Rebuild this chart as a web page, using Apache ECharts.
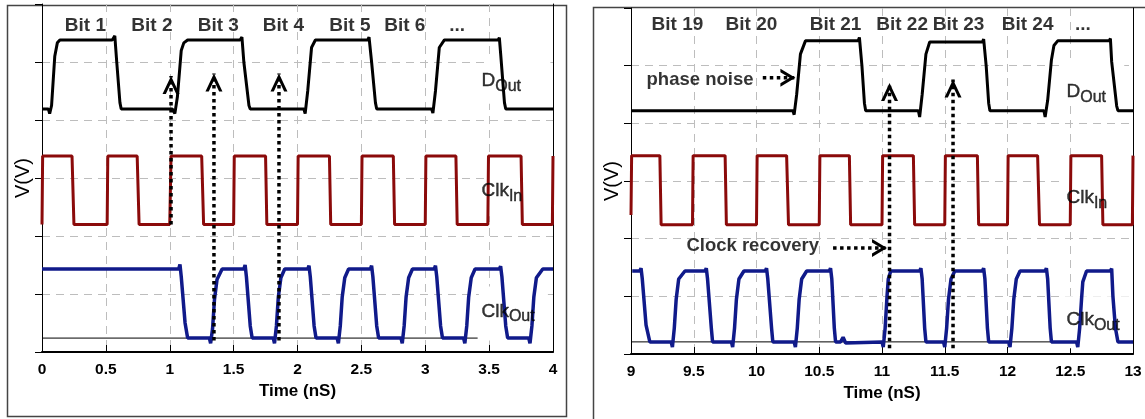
<!DOCTYPE html>
<html>
<head>
<meta charset="utf-8">
<title>CDR waveforms</title>
<script src="https://cdn.jsdelivr.net/npm/echarts@6/dist/echarts.min.js"></script>
<style>
  html,body{margin:0;padding:0;background:#fff;}
  #main{width:1145px;height:419px;}
</style>
</head>
<body>
<div id="main"></div>
<script>
// ---------- left panel: 0 - 4 nS ----------
let timeRangeA=[0,4];
let bitNamesA=['Bit 1','Bit 2','Bit 3','Bit 4','Bit 5','Bit 6','...'];
let bitTimesA=[0.34,0.86,1.38,1.89,2.41,2.84,3.25];
// [time nS, level] (each trace sits in its own 2-unit band)
let dOutA=[[0,4.19],[0.05,4.19],[0.06,4.11],[0.075,4.25],[0.1,5.1],[0.12,5.33],[0.14,5.38],[0.55,5.38],[0.57,5.45],
  [0.585,5.0],[0.61,4.3],[0.62,4.19],[1.02,4.19],[1.04,4.11],[1.06,4.4],[1.09,5.2],[1.11,5.33],[1.14,5.38],[1.55,5.38],
  [1.565,5.43],[1.58,5.0],[1.62,4.25],[1.63,4.19],[2.05,4.19],[2.06,4.11],[2.08,4.5],[2.11,5.25],[2.14,5.38],[2.55,5.38],
  [2.56,5.43],[2.58,5.0],[2.61,4.3],[2.62,4.19],[3.05,4.19],[3.06,4.12],[3.08,4.5],[3.11,5.25],[3.15,5.38],[3.57,5.38],
  [3.58,5.42],[3.59,5.15],[3.62,4.3],[3.63,4.19],[4,4.19]];
let clkInA=[[0,2.2],[0.005,3.38],[0.235,3.38],[0.25,2.2],[0.51,2.2],[0.515,3.38],[0.745,3.38],[0.76,2.2],[1.0,2.2],
  [1.01,3.38],[1.25,3.38],[1.265,2.2],[1.5,2.2],[1.505,3.38],[1.75,3.38],[1.76,2.2],[2.0,2.2],[2.005,3.38],[2.25,3.38],
  [2.26,2.2],[2.5,2.2],[2.505,3.38],[2.75,3.38],[2.76,2.2],[3.0,2.2],[3.005,3.38],[3.24,3.38],[3.25,2.2],[3.49,2.2],
  [3.495,3.38],[3.75,3.38],[3.76,2.2],[3.995,2.2],[4,3.38]];
let clkOutA=[[0,1.43],[1.07,1.43],[1.08,1.51],[1.09,1.3],[1.12,0.5],[1.14,0.24],[1.31,0.24],[1.32,0.15],[1.335,0.4],
  [1.35,0.9],[1.37,1.25],[1.41,1.43],[1.58,1.43],[1.59,1.5],[1.6,1.3],[1.63,0.45],[1.645,0.24],[1.81,0.24],[1.82,0.15],
  [1.835,0.45],[1.85,0.95],[1.87,1.28],[1.9,1.43],[2.08,1.43],[2.09,1.49],[2.1,1.3],[2.13,0.45],[2.145,0.24],[2.31,0.24],
  [2.32,0.15],[2.335,0.45],[2.35,0.95],[2.37,1.28],[2.4,1.43],[2.57,1.43],[2.58,1.49],[2.59,1.3],[2.62,0.45],[2.635,0.24],
  [2.81,0.24],[2.82,0.15],[2.835,0.45],[2.85,0.95],[2.87,1.28],[2.9,1.43],[3.07,1.43],[3.08,1.49],[3.09,1.3],[3.12,0.45],
  [3.135,0.24],[3.3,0.24],[3.31,0.15],[3.325,0.45],[3.34,0.95],[3.36,1.28],[3.39,1.43],[3.58,1.43],[3.59,1.48],[3.6,1.3],
  [3.63,0.45],[3.645,0.24],[3.81,0.24],[3.82,0.15],[3.835,0.45],[3.85,0.95],[3.87,1.28],[3.92,1.43],[4,1.43]];
let baseA=[[0,0.24],[3.41,0.24]];
let arrowsA=[[1.01,2.2,4.76],[1.346,0.2,4.8],[1.855,0.2,4.8]];   // time, from, to

// ---------- right panel: 9 - 13 nS ----------
let timeRangeB=[9,13];
let bitNamesB=['Bit 19','Bit 20','Bit 21','Bit 22','Bit 23','Bit 24','...'];
let bitTimesB=[9.37,9.96,10.63,11.16,11.61,12.16,12.6];
let dOutB=[[9,4.22],[10.29,4.22],[10.3,4.15],[10.32,4.5],[10.35,5.2],[10.39,5.43],[10.81,5.43],[10.82,5.49],[10.84,5.0],
  [10.86,4.35],[10.87,4.22],[11.29,4.22],[11.3,4.11],[11.32,4.5],[11.35,5.2],[11.38,5.41],[11.8,5.41],[11.81,5.46],
  [11.83,5.0],[11.85,4.35],[11.86,4.22],[12.29,4.22],[12.3,4.11],[12.32,4.4],[12.35,5.1],[12.37,5.35],[12.4,5.43],
  [12.81,5.43],[12.82,5.47],[12.83,5.07],[12.87,4.3],[12.88,4.22],[13,4.22]];
let clkInB=[[9,2.41],[9.005,3.44],[9.23,3.44],[9.24,2.24],[9.49,2.24],[9.495,3.44],[9.75,3.44],[9.76,2.24],[10.0,2.24],
  [10.005,3.44],[10.24,3.44],[10.255,2.24],[10.5,2.24],[10.505,3.44],[10.74,3.44],[10.75,2.24],[11.0,2.24],[11.005,3.44],
  [11.25,3.44],[11.26,2.24],[11.5,2.24],[11.505,3.44],[11.76,3.44],[11.77,2.24],[12.0,2.24],[12.005,3.44],[12.24,3.44],
  [12.255,2.24],[12.5,2.24],[12.505,3.44],[12.75,3.44],[12.76,2.24],[12.995,2.24],[13,3.44]];
let clkOutB=[[9.01,1.44],[9.07,1.44],[9.08,1.49],[9.09,1.3],[9.12,0.5],[9.15,0.21],[9.32,0.21],[9.33,0.12],[9.345,0.45],
  [9.36,0.95],[9.38,1.3],[9.43,1.44],[9.59,1.44],[9.6,1.49],[9.61,1.3],[9.64,0.45],[9.65,0.21],[9.8,0.21],[9.81,0.12],
  [9.825,0.45],[9.84,0.95],[9.86,1.3],[9.9,1.44],[10.07,1.44],[10.08,1.49],[10.09,1.3],[10.12,0.45],[10.13,0.21],
  [10.3,0.21],[10.31,0.12],[10.325,0.45],[10.34,0.95],[10.36,1.3],[10.4,1.44],[10.58,1.44],[10.59,1.49],[10.6,1.3],
  [10.62,0.45],[10.63,0.21],[10.67,0.21],[10.69,0.29],[10.71,0.19],[11.0,0.21],[11.01,0.12],[11.025,0.45],[11.04,1.0],
  [11.05,1.3],[11.07,1.44],[11.3,1.44],[11.31,1.49],[11.32,1.3],[11.34,0.45],[11.35,0.21],[11.49,0.21],[11.5,0.12],
  [11.515,0.45],[11.53,0.95],[11.55,1.3],[11.58,1.44],[11.8,1.44],[11.81,1.49],[11.82,1.3],[11.84,0.45],[11.85,0.21],
  [12.01,0.21],[12.02,0.12],[12.035,0.45],[12.05,0.95],[12.07,1.3],[12.1,1.44],[12.3,1.44],[12.31,1.49],[12.32,1.3],
  [12.34,0.45],[12.35,0.21],[12.55,0.21],[12.56,0.12],[12.575,0.45],[12.59,0.95],[12.6,1.25],[12.63,1.44],[12.82,1.44],
  [12.83,1.48],[12.84,1.0],[12.86,0.45],[12.88,0.21],[13,0.21]];
let baseB=[[9,0.21],[12.44,0.21]];
let arrowsB=[[11.06,0.1,4.7],[11.566,0.1,4.76]];
let hArrowsB=[[10.05,10.31,4.79],[10.61,11.04,1.84]];   // from, to, level
let notesB=['phase noise','Clock recovery'];
let noteSpotsB=[[9.55,4.76],[9.97,1.87]];

let signalNames=['D{s|Out}','Clk{s|In}','Clk{s|Out}'];

// ---------- chart ----------
let chart=echarts.init(document.getElementById('main'));
const FONT="'Liberation Sans',Arial,sans-serif";
const CHEV_UP='path://M0,18L9,0L18,18L14.5,18L9,7L3.5,18Z';
const CHEV_RIGHT='path://M0,0L18,9L0,18L0,14.5L11,9L0,3.5Z';
const GRIDLINE={color:'#bdbdbd',width:1,type:[8,6]};

function trace(gi,data,color,width,z){
  return {type:'line',xAxisIndex:gi,yAxisIndex:gi,data:data,symbol:'none',silent:true,z:z,
    lineStyle:{color:color,width:width},itemStyle:{color:color}};
}
function vArrow(gi,a){   // dotted line with an open "^" head
  return {type:'line',xAxisIndex:gi,yAxisIndex:gi,z:6,silent:true,
    symbol:CHEV_UP,symbolSize:[17,18],symbolOffset:[0,'50%'],
    itemStyle:{color:'#000',borderWidth:0},
    lineStyle:{color:'#000',width:3.5,type:'dotted'},
    data:[{value:[a[0],a[1]],symbol:'none'},{value:[a[0],a[2]]}]};
}
function hArrow(gi,a){   // dotted line with a ">" head
  return {type:'line',xAxisIndex:gi,yAxisIndex:gi,z:6,silent:true,
    symbol:CHEV_RIGHT,symbolSize:[15,18],symbolOffset:['-50%',0],
    itemStyle:{color:'#000',borderWidth:0},
    lineStyle:{color:'#000',width:3.5,type:'dotted'},
    data:[{value:[a[0],a[2]],symbol:'none'},{value:[a[1],a[2]]}]};
}
function texts(gi,items,label){
  return {type:'scatter',xAxisIndex:gi,yAxisIndex:gi,z:8,silent:true,symbolSize:1,
    itemStyle:{color:'rgba(0,0,0,0)'},data:items,
    label:Object.assign({show:true,position:'inside',formatter:'{b}',color:'#000',textBorderWidth:0,
      fontFamily:FONT,fontSize:19,fontWeight:'bold'},label)};
}
// white boxes behind the D/Clk labels (they hide the end of the traces, as in the figure)
function boxes(gi,list){
  return {type:'line',xAxisIndex:gi,yAxisIndex:gi,z:7,silent:true,clip:false,data:[],
    markArea:{silent:true,itemStyle:{color:'#fff',opacity:1},
      data:list.map(b=>[{coord:[b[0],b[2]]},{coord:[b[1],b[3]]}])}};
}
function signalLabels(gi,spots){
  return texts(gi,signalNames.map((n,i)=>({name:n,value:spots[i]})),{
    align:'left',verticalAlign:'middle',fontSize:19,fontWeight:'normal',
    textBorderColor:'#000',textBorderWidth:0.4,
    rich:{s:{fontFamily:FONT,fontSize:16,color:'#000',textBorderColor:'#000',textBorderWidth:0.4,padding:[11,0,0,0]}}});
}

function panelSeries(gi,d){
  let s=[
    trace(gi,d.base,'#000',1,1),
    trace(gi,d.dOut,'#000',3,2),
    trace(gi,d.clkIn,'#8b0a0a',3,2),
    trace(gi,d.clkOut,'#101a8a',3.5,2),
    boxes(gi,d.boxes),
    signalLabels(gi,d.labelSpots),
    texts(gi,d.bitNames.map((n,i)=>({name:n,value:[d.bitTimes[i],d.bitLevel]})),{})
  ];
  d.arrows.forEach(a=>s.push(vArrow(gi,a)));
  return s;
}

function xAxisFor(gi,range){
  return {type:'value',gridIndex:gi,min:range[0],max:range[1],interval:0.5,
    name:'Time (nS)',nameLocation:'middle',nameGap:30,
    nameTextStyle:{fontFamily:FONT,fontSize:17,fontWeight:'bold',color:'#000'},
    axisLine:{show:true,onZero:false,lineStyle:{color:'#000',width:2}},
    axisTick:{show:true,inside:true,length:7,lineStyle:{color:'#000'}},
    axisLabel:{fontFamily:FONT,fontSize:15.5,fontWeight:'bold',color:'#000',margin:10},
    splitLine:{show:true,showMinLine:false,showMaxLine:false,lineStyle:GRIDLINE}};
}
function yAxisFor(gi,gap){
  return {type:'value',gridIndex:gi,min:0,max:6,interval:1,
    name:'V(V)',nameLocation:'middle',nameRotate:90,nameGap:gap,
    nameTextStyle:{fontFamily:FONT,fontSize:20,color:'#000'},
    axisLine:{show:true,onZero:false,lineStyle:{color:'#000',width:1}},
    axisTick:{show:true,inside:false,length:7,lineStyle:{color:'#000'}},
    axisLabel:{show:false},
    splitLine:{show:true,showMinLine:false,showMaxLine:false,lineStyle:GRIDLINE}};
}
function rightEdge(gi){
  return {type:'value',gridIndex:gi,position:'right',min:0,max:6,
    axisLine:{show:true,onZero:false,lineStyle:{color:'#000',width:1}},
    axisTick:{show:false},axisLabel:{show:false},splitLine:{show:false}};
}

let series=[].concat(
  panelSeries(0,{base:baseA,dOut:dOutA,clkIn:clkInA,clkOut:clkOutA,arrows:arrowsA,
    bitNames:bitNamesA,bitTimes:bitTimesA,bitLevel:5.62,
    labelSpots:[[3.44,4.67],[3.44,2.78],[3.44,0.7]],
    boxes:[[3.46,3.98,4.28,5.1],[3.46,4.03,2.34,3.25],[3.42,3.96,0.2,1.13]]}),
  panelSeries(1,{base:baseB,dOut:dOutB,clkIn:clkInB,clkOut:clkOutB,arrows:arrowsB,
    bitNames:bitNamesB,bitTimes:bitTimesB,bitLevel:5.71,
    labelSpots:[[12.47,4.55],[12.47,2.71],[12.47,0.59]],
    boxes:[[12.43,12.93,4.3,5.05],[12.44,13.03,2.28,3.15],[12.45,12.99,0.1,1.0]]})
);
hArrowsB.forEach(a=>series.push(hArrow(1,a)));
series.push(texts(1,notesB.map((n,i)=>({name:n,value:noteSpotsB[i]})),{fontSize:18.5}));

let option={
  animation:false,
  backgroundColor:'#fff',
  grid:[
    {left:42,top:4,width:511,height:348},
    {left:631,top:8,width:502,height:346}
  ],
  xAxis:[xAxisFor(0,timeRangeA),xAxisFor(1,timeRangeB)],
  yAxis:[yAxisFor(0,9),yAxisFor(1,9),rightEdge(0),rightEdge(1)],
  graphic:[   // the two figure frames
    {type:'rect',silent:true,shape:{x:7.5,y:5.5,width:559,height:411},style:{fill:'none',stroke:'#444',lineWidth:1.5}},
    {type:'rect',silent:true,shape:{x:593.5,y:7.5,width:600,height:450},style:{fill:'none',stroke:'#444',lineWidth:1.5}}
  ],
  series:series
};
chart.setOption(option);
</script>
</body>
</html>
